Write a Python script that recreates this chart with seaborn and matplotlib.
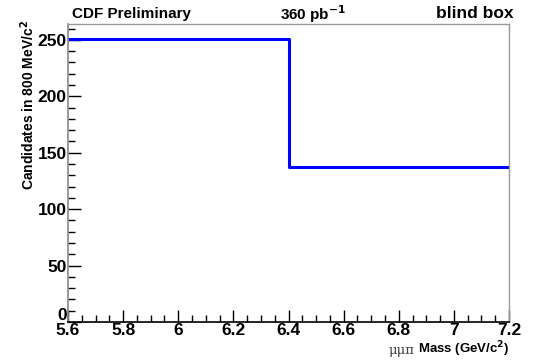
import matplotlib
matplotlib.use("Agg")
import matplotlib.pyplot as plt
import matplotlib.transforms as mtransforms
from matplotlib.ticker import MultipleLocator
import seaborn as sns
import pandas as pd

# Histogram contents: 800 MeV/c^2 bins of the mu-mu-pi mass
bin_edges = [5.6, 6.4, 7.2]
bin_centers = [6.0, 6.8]
candidates = [251, 137]
x_tick_values = [5.6, 5.8, 6.0, 6.2, 6.4, 6.6, 6.8, 7.0, 7.2]
x_tick_labels = ["5.6", "5.8", "6", "6.2", "6.4", "6.6", "6.8", "7", "7.2"]

sns.set_theme(style="white")
plt.rcParams["font.family"] = ["Liberation Sans", "DejaVu Sans"]
plt.rcParams["font.weight"] = "bold"
plt.rcParams["text.color"] = "black"
plt.rcParams["xtick.color"] = "black"
plt.rcParams["ytick.color"] = "black"
plt.rcParams["axes.labelcolor"] = "black"

df = pd.DataFrame({"mass": bin_centers, "count": candidates})

fig = plt.figure(figsize=(5.36, 3.6), dpi=100)
ax = fig.add_axes([68 / 536, 1 - 322 / 360, (509 - 68) / 536, (322 - 24) / 360])

sns.histplot(data=df, x="mass", weights="count", bins=bin_edges,
             element="step", fill=False, color="#0000ff", linewidth=2.2, ax=ax)

ax.set_xlim(5.6, 7.2)
ax.set_ylim(0, 264)

ax.xaxis.set_minor_locator(MultipleLocator(0.05))
ax.yaxis.set_major_locator(MultipleLocator(50))
ax.yaxis.set_minor_locator(MultipleLocator(10))
ax.set_xticks(x_tick_values)
ax.set_xticklabels(x_tick_labels)

ax.tick_params(which="both", direction="in", bottom=True, left=True,
               top=False, right=False, color="black", labelcolor="black")
ax.tick_params(which="major", length=9, width=1.0, labelsize=12.5)
ax.tick_params(axis="x", which="major", pad=1)
ax.tick_params(axis="y", which="major", pad=1)
ax.tick_params(which="minor", length=5, width=1.0)
for lab in ax.get_xticklabels() + ax.get_yticklabels():
    lab.set_fontweight("bold")

# Lift the "0" label so it sits just above the x tick labels
fig.canvas.draw()
for lab in ax.get_yticklabels():
    if lab.get_text() == "0":
        lab.set_transform(lab.get_transform() +
                          mtransforms.ScaledTranslation(0, 7.5 / 100, fig.dpi_scale_trans))

ax.spines["bottom"].set_color("black")
ax.spines["bottom"].set_linewidth(1.2)
ax.spines["left"].set_color("#888888")
ax.spines["left"].set_linewidth(1.2)
for side in ["right", "top"]:
    ax.spines[side].set_color("#999999")
    ax.spines[side].set_linewidth(1.0)

ax.set_xlabel("")
ax.set_ylabel("")

# Axis titles, right/top aligned
fig.text(28 / 536, 1 - 20 / 360, "Candidates in 800 MeV/c$^\\mathbf{2}$",
         rotation=90, ha="center", va="top", fontsize=10, fontweight="bold")
fig.text(509 / 536, 1 - 349.5 / 360, "Mass (GeV/c$^\\mathbf{2}$)",
         ha="right", va="center", fontsize=9.5, fontweight="bold")
fig.text(415 / 536, 1 - 350.5 / 360, "μμπ", ha="right", va="center",
         fontsize=9.5, fontweight="normal", family=["DejaVu Serif"], color="#444444")

# Header labels
fig.text(72 / 536, 1 - 14 / 360, "CDF Preliminary", ha="left", va="center",
         fontsize=11, fontweight="bold")
fig.text(280 / 536, 1 - 14 / 360, "360 pb$^{\\mathbf{-1}}$", ha="left", va="center",
         fontsize=11, fontweight="bold")
fig.text(514 / 536, 1 - 14 / 360, "blind box", ha="right", va="center",
         fontsize=12.5, fontweight="bold")

fig.savefig("out.png", dpi=100)
